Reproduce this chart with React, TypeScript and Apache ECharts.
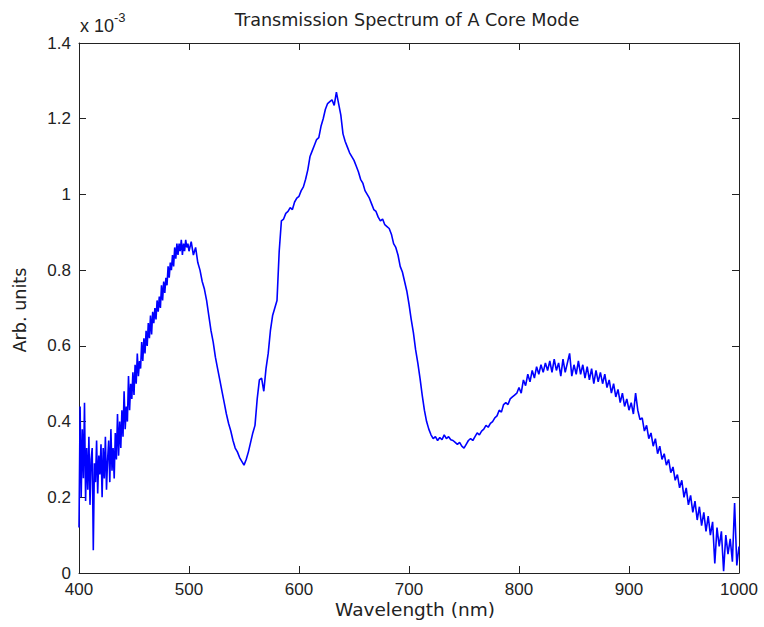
import React, { useEffect, useRef } from "react";
import * as echarts from "echarts";

// Wavelength grid (nm)
const leftStart = 400;
const leftStep = 1;
// Arb. units (x 1e-3), 400..499 nm, 1 nm steps
const leftValues = [
  0.12, 0.44, 0.20, 0.38, 0.25, 0.45, 0.19, 0.33, 0.22, 0.36,
  0.18, 0.30, 0.33, 0.06, 0.29, 0.24, 0.35, 0.21, 0.31, 0.26,
  0.34, 0.20, 0.33, 0.25, 0.36, 0.22, 0.30, 0.35, 0.24, 0.38,
  0.27, 0.33, 0.25, 0.37, 0.30, 0.42, 0.31, 0.40, 0.33, 0.43,
  0.36, 0.48, 0.38, 0.44, 0.40, 0.52, 0.43, 0.50, 0.46, 0.53,
  0.47, 0.55, 0.50, 0.58, 0.52, 0.56, 0.54, 0.61, 0.56, 0.62,
  0.58, 0.64, 0.60, 0.66, 0.62, 0.68, 0.63, 0.69, 0.66, 0.70,
  0.67, 0.72, 0.69, 0.73, 0.70, 0.76, 0.72, 0.77, 0.74, 0.78,
  0.76, 0.81, 0.78, 0.82, 0.80, 0.84, 0.81, 0.86, 0.83, 0.87,
  0.84, 0.87, 0.85, 0.88, 0.84, 0.87, 0.85, 0.88, 0.86, 0.87,
];

const mainStart = 500;
const mainStep = 2;
// Arb. units (x 1e-3), 500..1000 nm, 2 nm steps
const mainValues = [
  0.85, 0.875, 0.84, 0.86, 0.82, 0.80, 0.77, 0.75, 0.72, 0.68,
  0.64, 0.61, 0.57, 0.54, 0.51, 0.48, 0.45, 0.42, 0.395, 0.375,
  0.35, 0.33, 0.32, 0.305, 0.295, 0.285, 0.30, 0.32, 0.345, 0.37,
  0.39, 0.46, 0.51, 0.515, 0.48, 0.54, 0.58, 0.64, 0.68, 0.70,
  0.72, 0.85, 0.93, 0.935, 0.95, 0.955, 0.965, 0.96, 0.98, 0.99,
  0.995, 1.01, 1.02, 1.04, 1.065, 1.10, 1.115, 1.13, 1.145, 1.15,
  1.18, 1.20, 1.225, 1.24, 1.245, 1.25, 1.235, 1.27, 1.24, 1.21,
  1.16, 1.14, 1.125, 1.11, 1.10, 1.09, 1.075, 1.06, 1.04, 1.03,
  1.01, 1.00, 0.99, 0.975, 0.96, 0.955, 0.94, 0.93, 0.935, 0.92,
  0.915, 0.91, 0.895, 0.87, 0.86, 0.84, 0.81, 0.795, 0.77, 0.745,
  0.71, 0.67, 0.635, 0.59, 0.555, 0.515, 0.47, 0.43, 0.40, 0.38,
  0.365, 0.355, 0.36, 0.35, 0.358, 0.352, 0.365, 0.355, 0.36, 0.352,
  0.35, 0.345, 0.34, 0.345, 0.335, 0.33, 0.34, 0.35, 0.355, 0.35,
  0.36, 0.37, 0.365, 0.375, 0.38, 0.39, 0.385, 0.395, 0.40, 0.41,
  0.415, 0.43, 0.425, 0.445, 0.45, 0.445, 0.46, 0.465, 0.47, 0.475,
  0.49, 0.475, 0.51, 0.495, 0.525, 0.505, 0.535, 0.515, 0.545, 0.525,
  0.55, 0.53, 0.555, 0.535, 0.56, 0.53, 0.565, 0.535, 0.555, 0.52,
  0.565, 0.53, 0.555, 0.58, 0.52, 0.55, 0.525, 0.56, 0.525, 0.55,
  0.515, 0.545, 0.51, 0.54, 0.50, 0.535, 0.505, 0.53, 0.50, 0.525,
  0.49, 0.51, 0.475, 0.50, 0.465, 0.485, 0.45, 0.475, 0.44, 0.46,
  0.43, 0.45, 0.42, 0.475, 0.43, 0.405, 0.41, 0.375, 0.39, 0.355,
  0.37, 0.335, 0.355, 0.315, 0.335, 0.30, 0.315, 0.285, 0.30, 0.265,
  0.28, 0.245, 0.26, 0.225, 0.245, 0.2, 0.225, 0.18, 0.205, 0.16,
  0.19, 0.14, 0.175, 0.125, 0.16, 0.11, 0.15, 0.1, 0.135, 0.025,
  0.12, 0.07, 0.11, 0.005, 0.1, 0.05, 0.09, 0.03, 0.185, 0.02,
  0.07,
];

const xTicks = { min: 400, max: 1000, interval: 100 };
const yTicks = { min: 0, max: 1.4, interval: 0.2 };

const titleText = "Transmission Spectrum of A Core Mode";
const xLabel = "Wavelength (nm)";
const yLabel = "Arb. units";

export default function App() {
  const ref = useRef<HTMLDivElement>(null);
  useEffect(() => {
    if (!ref.current) return;
    const chart = echarts.init(ref.current, null, { renderer: "svg" });
    const data: number[][] = [];
    leftValues.forEach((v, i) => data.push([leftStart + i * leftStep, v]));
    mainValues.forEach((v, i) => data.push([mainStart + i * mainStep, v]));

    const axisColor = "#222";
    const tickFont = { color: "#222", fontSize: 17, fontFamily: "Liberation Sans" };
    const baseX = {
      type: "value" as const,
      ...xTicks,
      splitLine: { show: false },
      axisLine: { show: true, onZero: false, lineStyle: { color: axisColor, width: 1 } },
      axisTick: { show: true, inside: true, length: 7, lineStyle: { color: axisColor } },
    };
    const baseY = {
      type: "value" as const,
      ...yTicks,
      splitLine: { show: false },
      axisLine: { show: true, onZero: false, lineStyle: { color: axisColor, width: 1 } },
      axisTick: { show: true, inside: true, length: 7, lineStyle: { color: axisColor } },
    };

    chart.setOption({
      animation: false,
      backgroundColor: "#fff",
      grid: { left: 79, right: 25, top: 43, bottom: 54, containLabel: false },
      xAxis: [
        {
          ...baseX,
          position: "bottom",
          axisLabel: { ...tickFont, margin: 8, formatter: (v: number) => String(v) },
        },
        { ...baseX, position: "top", axisLabel: { show: false } },
      ],
      yAxis: [
        { ...baseY, position: "left", axisLabel: { ...tickFont, margin: 8 } },
        { ...baseY, position: "right", axisLabel: { show: false } },
      ],
      series: [
        {
          type: "line",
          xAxisIndex: 0,
          yAxisIndex: 0,
          data,
          showSymbol: false,
          symbol: "none",
          lineStyle: { color: "#0000ff", width: 1.6 },
        },
      ],
      graphic: [
        {
          type: "text",
          x: 407,
          y: 20,
          style: {
            text: titleText,
            fontSize: 17.6,
            fontFamily: "DejaVu Sans",
            fill: "#222",
            textAlign: "center",
            textVerticalAlign: "middle",
          },
        },
        {
          type: "text",
          x: 415,
          y: 609,
          style: {
            text: xLabel,
            fontSize: 18.5,
            fontFamily: "DejaVu Sans",
            fill: "#222",
            textAlign: "center",
            textVerticalAlign: "middle",
          },
        },
        {
          type: "text",
          x: 20,
          y: 310,
          rotation: Math.PI / 2,
          style: {
            text: yLabel,
            fontSize: 17.6,
            fontFamily: "DejaVu Sans",
            fill: "#222",
            textAlign: "center",
            textVerticalAlign: "middle",
          },
        },
        {
          type: "text",
          x: 80,
          y: 26,
          style: {
            text: "x 10",
            fontSize: 18,
            fontFamily: "Liberation Sans",
            fill: "#222",
            textAlign: "left",
            textVerticalAlign: "middle",
          },
        },
        {
          type: "text",
          x: 114,
          y: 17,
          style: {
            text: "-3",
            fontSize: 13,
            fontFamily: "Liberation Sans",
            fill: "#222",
            textAlign: "left",
            textVerticalAlign: "middle",
          },
        },
      ],
    });
    return () => chart.dispose();
  }, []);
  return (
    <div
      ref={ref}
      style={{ position: "fixed", left: 0, top: 0, width: 764, height: 627, background: "#fff" }}
    />
  );
}
